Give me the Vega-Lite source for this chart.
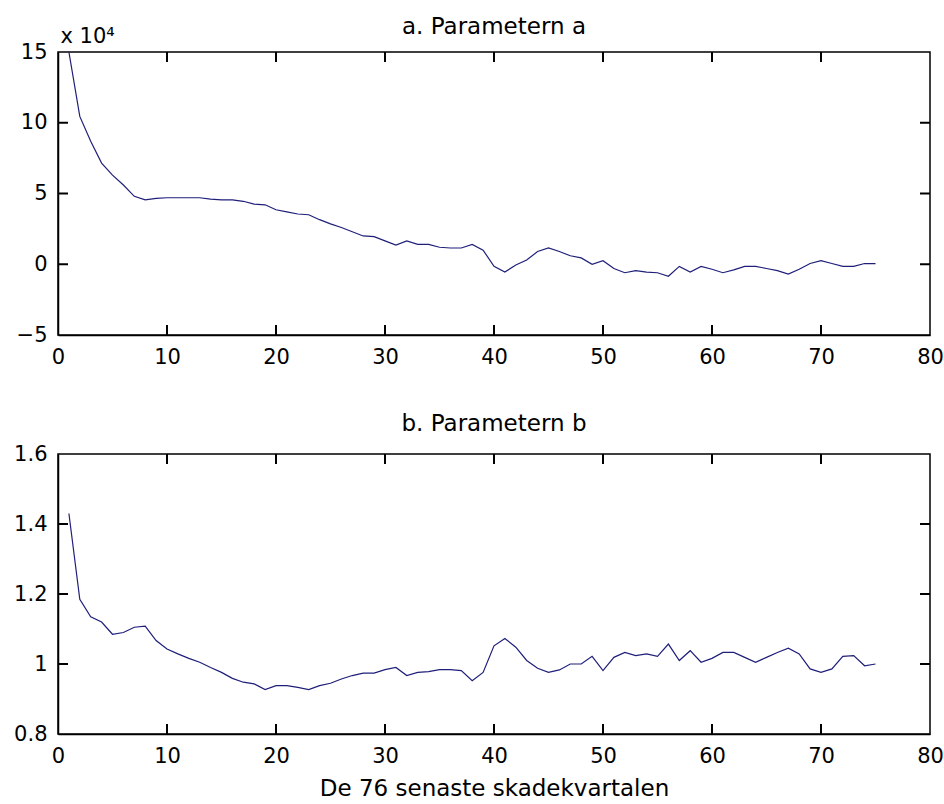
{
  "$schema": "https://vega.github.io/schema/vega-lite/v6.json",
  "background": "white",
  "padding": {"left": 12, "top": 15, "right": 5, "bottom": 2},
  "datasets": {
    "a": [
      {"x":1,"v":15.0},{"x":2,"v":10.45},{"x":3,"v":8.7},{"x":4,"v":7.15},{"x":5,"v":6.3},{"x":6,"v":5.6},{"x":7,"v":4.8},{"x":8,"v":4.55},{"x":9,"v":4.65},{"x":10,"v":4.7},
      {"x":11,"v":4.7},{"x":12,"v":4.7},{"x":13,"v":4.7},{"x":14,"v":4.6},{"x":15,"v":4.55},{"x":16,"v":4.55},{"x":17,"v":4.45},{"x":18,"v":4.25},{"x":19,"v":4.2},{"x":20,"v":3.85},
      {"x":21,"v":3.7},{"x":22,"v":3.55},{"x":23,"v":3.5},{"x":24,"v":3.15},{"x":25,"v":2.85},{"x":26,"v":2.6},{"x":27,"v":2.3},{"x":28,"v":2.0},{"x":29,"v":1.95},{"x":30,"v":1.65},
      {"x":31,"v":1.35},{"x":32,"v":1.65},{"x":33,"v":1.4},{"x":34,"v":1.4},{"x":35,"v":1.2},{"x":36,"v":1.15},{"x":37,"v":1.15},{"x":38,"v":1.4},{"x":39,"v":1.0},{"x":40,"v":-0.15},
      {"x":41,"v":-0.55},{"x":42,"v":-0.05},{"x":43,"v":0.3},{"x":44,"v":0.9},{"x":45,"v":1.15},{"x":46,"v":0.9},{"x":47,"v":0.6},{"x":48,"v":0.45},{"x":49,"v":0.0},{"x":50,"v":0.25},
      {"x":51,"v":-0.3},{"x":52,"v":-0.6},{"x":53,"v":-0.45},{"x":54,"v":-0.55},{"x":55,"v":-0.6},{"x":56,"v":-0.85},{"x":57,"v":-0.15},{"x":58,"v":-0.55},{"x":59,"v":-0.15},{"x":60,"v":-0.35},
      {"x":61,"v":-0.6},{"x":62,"v":-0.4},{"x":63,"v":-0.15},{"x":64,"v":-0.15},{"x":65,"v":-0.3},{"x":66,"v":-0.45},{"x":67,"v":-0.7},{"x":68,"v":-0.35},{"x":69,"v":0.05},{"x":70,"v":0.25},
      {"x":71,"v":0.05},{"x":72,"v":-0.15},{"x":73,"v":-0.15},{"x":74,"v":0.05},{"x":75,"v":0.05}
    ],
    "b": [
      {"x":1,"v":1.43},{"x":2,"v":1.185},{"x":3,"v":1.135},{"x":4,"v":1.12},{"x":5,"v":1.085},{"x":6,"v":1.09},{"x":7,"v":1.105},{"x":8,"v":1.108},{"x":9,"v":1.067},{"x":10,"v":1.043},
      {"x":11,"v":1.029},{"x":12,"v":1.016},{"x":13,"v":1.005},{"x":14,"v":0.99},{"x":15,"v":0.976},{"x":16,"v":0.959},{"x":17,"v":0.948},{"x":18,"v":0.943},{"x":19,"v":0.927},{"x":20,"v":0.938},
      {"x":21,"v":0.938},{"x":22,"v":0.933},{"x":23,"v":0.927},{"x":24,"v":0.938},{"x":25,"v":0.945},{"x":26,"v":0.957},{"x":27,"v":0.967},{"x":28,"v":0.974},{"x":29,"v":0.974},{"x":30,"v":0.984},
      {"x":31,"v":0.99},{"x":32,"v":0.967},{"x":33,"v":0.976},{"x":34,"v":0.978},{"x":35,"v":0.984},{"x":36,"v":0.984},{"x":37,"v":0.981},{"x":38,"v":0.952},{"x":39,"v":0.976},{"x":40,"v":1.052},
      {"x":41,"v":1.073},{"x":42,"v":1.048},{"x":43,"v":1.01},{"x":44,"v":0.988},{"x":45,"v":0.976},{"x":46,"v":0.983},{"x":47,"v":1.0},{"x":48,"v":1.0},{"x":49,"v":1.022},{"x":50,"v":0.981},
      {"x":51,"v":1.019},{"x":52,"v":1.033},{"x":53,"v":1.024},{"x":54,"v":1.029},{"x":55,"v":1.022},{"x":56,"v":1.057},{"x":57,"v":1.01},{"x":58,"v":1.038},{"x":59,"v":1.005},{"x":60,"v":1.016},
      {"x":61,"v":1.033},{"x":62,"v":1.033},{"x":63,"v":1.019},{"x":64,"v":1.005},{"x":65,"v":1.019},{"x":66,"v":1.033},{"x":67,"v":1.045},{"x":68,"v":1.029},{"x":69,"v":0.986},{"x":70,"v":0.976},
      {"x":71,"v":0.986},{"x":72,"v":1.022},{"x":73,"v":1.024},{"x":74,"v":0.995},{"x":75,"v":1.0}
    ],
    "xt": [{"t":10},{"t":20},{"t":30},{"t":40},{"t":50},{"t":60},{"t":70}],
    "yta": [{"t":0},{"t":5},{"t":10}],
    "ytb": [{"t":1},{"t":1.2},{"t":1.4}]
  },
  "spacing": 44,
  "vconcat": [
    {
      "width": 872,
      "height": 283,
      "title": {"text": "a. Parametern a", "offset": -14},
      "layer": [
        {
          "data": {"name": "a"},
          "mark": {"type": "line", "color": "#1f1f7a", "strokeWidth": 1.2, "clip": true},
          "encoding": {
            "x": {"field": "x", "type": "quantitative", "scale": {"domain": [0, 80], "nice": false},
                  "axis": {"values": [0,10,20,30,40,50,60,70,80], "title": null, "ticks": false}},
            "y": {"field": "v", "type": "quantitative", "scale": {"domain": [-5, 15], "nice": false, "zero": false},
                  "axis": {"values": [-5,0,5,10,15], "ticks": false, "title": "x 10⁴", "titleAngle": 0, "titleX": 2, "titleY": -10,
                           "titleAlign": "left", "titleBaseline": "alphabetic", "titleFontSize": 21, "titleFont": "DejaVu Sans", "titleFontWeight": "normal"}}
          }
        },
        {
          "data": {"name": "xt"},
          "mark": {"type": "tick", "orient": "vertical", "size": 20, "thickness": 2, "color": "#000", "opacity": 1, "clip": true},
          "encoding": {
            "x": {"field": "t", "type": "quantitative", "scale": {"domain": [0, 80], "nice": false}},
            "y": {"datum": -5, "type": "quantitative", "scale": {"domain": [-5, 15], "nice": false, "zero": false}}
          }
        },
        {
          "data": {"name": "xt"},
          "mark": {"type": "tick", "orient": "vertical", "size": 20, "thickness": 2, "color": "#000", "opacity": 1, "clip": true},
          "encoding": {
            "x": {"field": "t", "type": "quantitative", "scale": {"domain": [0, 80], "nice": false}},
            "y": {"datum": 15, "type": "quantitative", "scale": {"domain": [-5, 15], "nice": false, "zero": false}}
          }
        },
        {
          "data": {"name": "yta"},
          "mark": {"type": "tick", "orient": "horizontal", "size": 20, "thickness": 2, "color": "#000", "opacity": 1, "clip": true},
          "encoding": {
            "y": {"field": "t", "type": "quantitative", "scale": {"domain": [-5, 15], "nice": false, "zero": false}},
            "x": {"datum": 0, "type": "quantitative", "scale": {"domain": [0, 80], "nice": false}}
          }
        },
        {
          "data": {"name": "yta"},
          "mark": {"type": "tick", "orient": "horizontal", "size": 20, "thickness": 2, "color": "#000", "opacity": 1, "clip": true},
          "encoding": {
            "y": {"field": "t", "type": "quantitative", "scale": {"domain": [-5, 15], "nice": false, "zero": false}},
            "x": {"datum": 80, "type": "quantitative", "scale": {"domain": [0, 80], "nice": false}}
          }
        }
      ]
    },
    {
      "width": 872,
      "height": 280,
      "title": {"text": "b. Parametern b", "offset": 7},
      "layer": [
        {
          "data": {"name": "b"},
          "mark": {"type": "line", "color": "#1f1f7a", "strokeWidth": 1.2, "clip": true},
          "encoding": {
            "x": {"field": "x", "type": "quantitative", "scale": {"domain": [0, 80], "nice": false},
                  "axis": {"values": [0,10,20,30,40,50,60,70,80], "ticks": false, "title": "De 76 senaste skadekvartalen", "titlePadding": 11}},
            "y": {"field": "v", "type": "quantitative", "scale": {"domain": [0.8, 1.6], "nice": false, "zero": false},
                  "axis": {"values": [0.8,1,1.2,1.4,1.6], "ticks": false, "format": "~g", "title": null}}
          }
        },
        {
          "data": {"name": "xt"},
          "mark": {"type": "tick", "orient": "vertical", "size": 20, "thickness": 2, "color": "#000", "opacity": 1, "clip": true},
          "encoding": {
            "x": {"field": "t", "type": "quantitative", "scale": {"domain": [0, 80], "nice": false}},
            "y": {"datum": 0.8, "type": "quantitative", "scale": {"domain": [0.8, 1.6], "nice": false, "zero": false}}
          }
        },
        {
          "data": {"name": "xt"},
          "mark": {"type": "tick", "orient": "vertical", "size": 20, "thickness": 2, "color": "#000", "opacity": 1, "clip": true},
          "encoding": {
            "x": {"field": "t", "type": "quantitative", "scale": {"domain": [0, 80], "nice": false}},
            "y": {"datum": 1.6, "type": "quantitative", "scale": {"domain": [0.8, 1.6], "nice": false, "zero": false}}
          }
        },
        {
          "data": {"name": "ytb"},
          "mark": {"type": "tick", "orient": "horizontal", "size": 20, "thickness": 2, "color": "#000", "opacity": 1, "clip": true},
          "encoding": {
            "y": {"field": "t", "type": "quantitative", "scale": {"domain": [0.8, 1.6], "nice": false, "zero": false}},
            "x": {"datum": 0, "type": "quantitative", "scale": {"domain": [0, 80], "nice": false}}
          }
        },
        {
          "data": {"name": "ytb"},
          "mark": {"type": "tick", "orient": "horizontal", "size": 20, "thickness": 2, "color": "#000", "opacity": 1, "clip": true},
          "encoding": {
            "y": {"field": "t", "type": "quantitative", "scale": {"domain": [0.8, 1.6], "nice": false, "zero": false}},
            "x": {"datum": 80, "type": "quantitative", "scale": {"domain": [0, 80], "nice": false}}
          }
        }
      ]
    }
  ],
  "config": {
    "view": {"stroke": "#000", "strokeWidth": 1.5},
    "axis": {
      "domainColor": "#000", "domainWidth": 1.5, "tickColor": "#000", "tickSize": 9, "tickWidth": 1,
      "labelPadding": 11, "labelFont": "DejaVu Sans", "labelFontSize": 21, "labelColor": "#000",
      "labelFlush": false, "labelOverlap": false, "grid": false,
      "titleFont": "DejaVu Sans", "titleFontSize": 23, "titleFontWeight": "normal", "titleColor": "#000"
    },
    "title": {"font": "DejaVu Sans", "fontSize": 23, "fontWeight": "normal", "color": "#000", "baseline": "alphabetic", "anchor": "middle"}
  }
}
